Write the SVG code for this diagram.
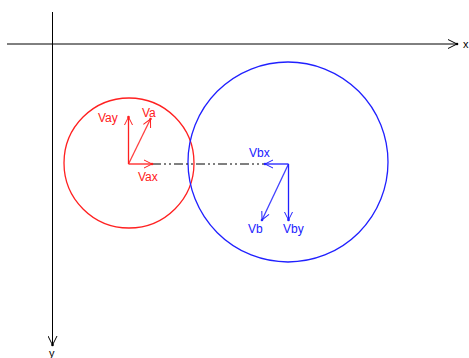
<svg xmlns="http://www.w3.org/2000/svg" width="469" height="358" viewBox="0 0 469 358">
<style>
text{font-family:"Liberation Sans",Arial,sans-serif;font-size:12px}
.red{stroke:#ff2020;fill:none;stroke-width:1.3}
.blue{stroke:#2020ff;fill:none;stroke-width:1.3}
.axis{stroke:#000;fill:none;stroke-width:1}
.rt{fill:#ff2020}
.bt{fill:#2020ff}
</style>
<defs>
<marker id="ak" viewBox="-10 -5 12 10" refX="0" refY="0" markerWidth="12" markerHeight="10" markerUnits="userSpaceOnUse" orient="auto">
<path d="M-9,-4.5 L0,0 L-9,4.5" fill="none" stroke="#000" stroke-width="1"/>
<circle r="1.3" fill="#000"/>
</marker>
<marker id="ar" viewBox="-10 -5 12 10" refX="0" refY="0" markerWidth="12" markerHeight="10" markerUnits="userSpaceOnUse" orient="auto">
<path d="M-8,-4 L0,0 L-8,4" fill="none" stroke="#ff2020" stroke-width="1"/>
<circle r="1.3" fill="#ff2020"/>
</marker>
<marker id="ab" viewBox="-10 -5 12 10" refX="0" refY="0" markerWidth="12" markerHeight="10" markerUnits="userSpaceOnUse" orient="auto">
<path d="M-8,-4 L0,0 L-8,4" fill="none" stroke="#2020ff" stroke-width="1"/>
<circle r="1.3" fill="#2020ff"/>
</marker>
</defs>
<g id="axes">
<line class="axis" x1="7" y1="44" x2="457" y2="44" marker-end="url(#ak)"/>
<line class="axis" x1="52.5" y1="12" x2="52.5" y2="345" marker-end="url(#ak)"/>
<text x="463" y="48" fill="#000" style="font-size:11px">x</text>
<text x="49" y="357" fill="#000" style="font-size:11px">y</text>
</g>
<g id="ballA">
<circle class="red" cx="129" cy="163" r="65"/>
</g>
<g id="ballB">
<circle class="blue" cx="288" cy="162" r="100"/>
</g>
<g id="connectors">
<line x1="152" y1="164" x2="265" y2="164" stroke="#000" stroke-width="1" stroke-dasharray="9,3,2,3,2,3"/>
<line class="red" x1="128.5" y1="164" x2="128.5" y2="117" marker-end="url(#ar)"/>
<line class="red" x1="128.5" y1="164" x2="152" y2="164" marker-end="url(#ar)"/>
<line class="red" x1="128.5" y1="164" x2="150.5" y2="119" marker-end="url(#ar)" stroke-opacity="0.85"/>
<line class="blue" x1="288.5" y1="164" x2="265" y2="164" marker-end="url(#ab)"/>
<line class="blue" x1="288.5" y1="164" x2="288.5" y2="220" marker-end="url(#ab)"/>
<line class="blue" x1="288.5" y1="164" x2="262" y2="220" marker-end="url(#ab)" stroke-opacity="0.85"/>
</g>
<g id="labels">
<text class="rt" x="98" y="122">Vay</text>
<text class="rt" x="142" y="117">Va</text>
<text class="rt" x="138" y="181">Vax</text>
<text class="bt" x="249" y="157">Vbx</text>
<text class="bt" x="248" y="233">Vb</text>
<text class="bt" x="283" y="233">Vby</text>
</g>
</svg>
